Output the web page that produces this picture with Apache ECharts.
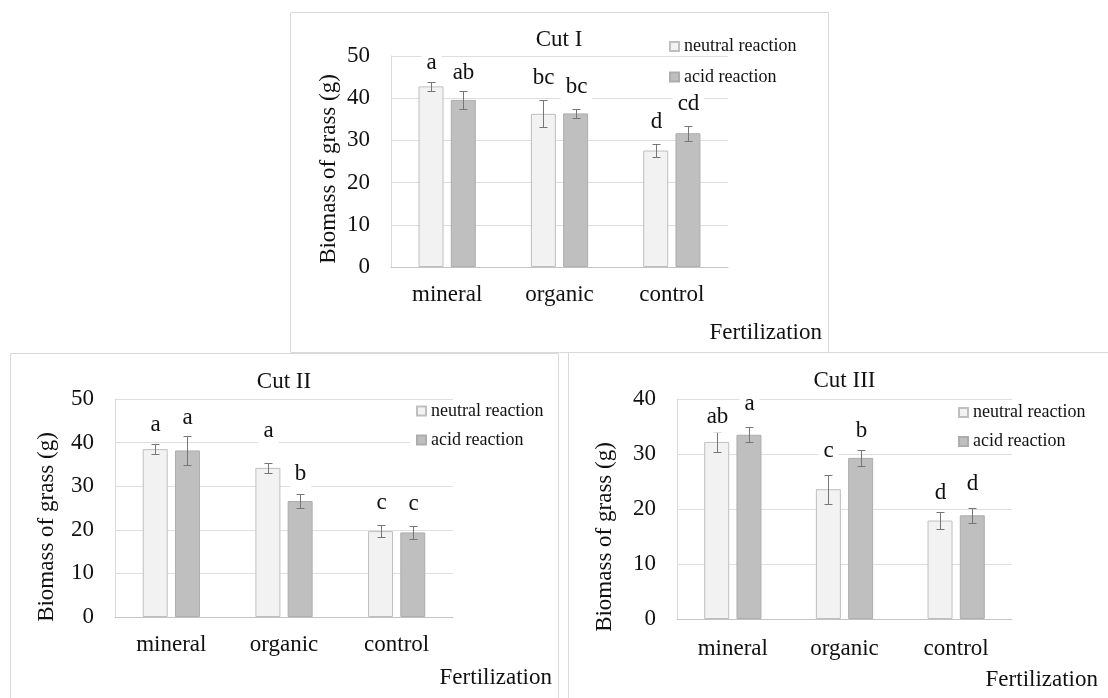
<!DOCTYPE html>
<html><head><meta charset="utf-8">
<script src="https://cdn.jsdelivr.net/npm/echarts@6/dist/echarts.min.js"></script>
<style>html,body{margin:0;padding:0;background:#fff;}#c{width:1108px;height:698px;}</style>
</head><body><div id="c"></div>
<script>
// ---------------- DATA ----------------
const categories = ['mineral', 'organic', 'control'];
const seriesNames = ['neutral reaction', 'acid reaction'];
const panelTitles = ['Cut I', 'Cut II', 'Cut III'];
const yAxisTitle = 'Biomass of grass (g)';
const xAxisTitle = 'Fertilization';
const yMaxes = [50, 50, 40];
const yStep = 10;

const cut1Neutral = [42.8, 36.3, 27.6];
const cut1NeutralErr = [1.0, 3.2, 1.5];
const cut1Acid = [39.6, 36.4, 31.7];
const cut1AcidErr = [2.1, 1.05, 1.8];
const cut1NeutralLetters = ['a', 'bc', 'd'];
const cut1AcidLetters = ['ab', 'bc', 'cd'];

const cut2Neutral = [38.5, 34.2, 19.7];
const cut2NeutralErr = [1.2, 1.15, 1.45];
const cut2Acid = [38.2, 26.6, 19.4];
const cut2AcidErr = [3.3, 1.7, 1.5];
const cut2NeutralLetters = ['a', 'a', 'c'];
const cut2AcidLetters = ['a', 'b', 'c'];

const cut3Neutral = [32.2, 23.6, 17.9];
const cut3NeutralErr = [1.75, 2.6, 1.6];
const cut3Acid = [33.5, 29.3, 18.85];
const cut3AcidErr = [1.35, 1.5, 1.35];
const cut3NeutralLetters = ['ab', 'c', 'd'];
const cut3AcidLetters = ['a', 'b', 'd'];

// ---------------- STYLE / LAYOUT ----------------
const FONT = '"Liberation Serif", "Times New Roman", serif';
const TXT = '#111';
const NEUTRAL = { color: '#f2f2f2', borderColor: '#bfbfbf', borderWidth: 1 };
const ACID = { color: '#bfbfbf', borderColor: '#adadad', borderWidth: 1 };
const BAR_W = 25, BAR_GAP = 0.29;
const OFF = (BAR_W * (1 + BAR_GAP)) / 2;
// letter baseline lift above error-bar top (px), per panel [neutral[], acid[]]
const letterLift = [
  [[12, 15, 15], [11, 15, 15]],
  [[12, 25, 15], [11, 13, 15]],
  [[8, 17, 12], [16, 12, 17]]
];

const panels = [
  { n: cut1Neutral, ne: cut1NeutralErr, nl: cut1NeutralLetters, a: cut1Acid, ae: cut1AcidErr, al: cut1AcidLetters,
    grid: { left: 391, top: 56, width: 337, height: 211 }, frame: [290.5, 12.5, 538, 340],
    title: [559, 40], legend: { left: 669, top: 37.5, itemGap: 12.5, bg: 'transparent', padding: 0 },
    yName: [329, 169], xName: [822, 333], labelMargin: 16 },
  { n: cut2Neutral, ne: cut2NeutralErr, nl: cut2NeutralLetters, a: cut2Acid, ae: cut2AcidErr, al: cut2AcidLetters,
    grid: { left: 115, top: 399, width: 338, height: 218 }, frame: [10.5, 353.5, 548, 400],
    title: [284, 381.5], legend: { left: 410, top: 402, itemGap: 11, bg: '#fff', padding: [0, 4, 2, 6] },
    yName: [47, 527], xName: [552, 678], labelMargin: 16 },
  { n: cut3Neutral, ne: cut3NeutralErr, nl: cut3NeutralLetters, a: cut3Acid, ae: cut3AcidErr, al: cut3AcidLetters,
    grid: { left: 677, top: 399, width: 335, height: 220 }, frame: [568.5, 352.5, 600, 400],
    title: [844.5, 380.5], legend: { left: 958, top: 403.5, itemGap: 11, bg: 'transparent', padding: 0 },
    yName: [605, 537], xName: [1098, 680], labelMargin: 18 }
];

function errRender(errs, letters, lifts, side) {
  return function (params, api) {
    const i = api.value(0), v = api.value(1), e = errs[params.dataIndex];
    const c = api.coord([i, v]);
    const t = api.coord([i, v + e]);
    const b = api.coord([i, v - e]);
    const x = Math.round(c[0] + side * OFF) + 0.5;
    const yt = Math.round(t[1]) + 0.5, yb = Math.round(b[1]) + 0.5;
    const ls = { stroke: '#767676', lineWidth: 1 };
    const baseline = t[1] - lifts[params.dataIndex];
    return {
      type: 'group',
      children: [
        { type: 'line', shape: { x1: x, y1: yt, x2: x, y2: yb }, style: ls },
        { type: 'line', shape: { x1: x - 4, y1: yt, x2: x + 4, y2: yt }, style: ls },
        { type: 'line', shape: { x1: x - 4, y1: yb, x2: x + 4, y2: yb }, style: ls },
        { type: 'text', x: x, y: baseline - 7, z2: 10,
          style: { text: letters[params.dataIndex], font: '23px ' + FONT, fill: TXT,
                   align: 'center', verticalAlign: 'middle',
                   backgroundColor: '#fff', padding: [6, 5, 2, 5] } }
      ]
    };
  };
}

const grids = [], xAxes = [], yAxes = [], series = [], legends = [], graphics = [];
panels.forEach((p, k) => {
  grids.push(Object.assign({ containLabel: false }, p.grid));
  xAxes.push({ type: 'category', gridIndex: k, data: categories,
    axisLine: { lineStyle: { color: '#c4c4c4', width: 1 } }, axisTick: { show: false },
    axisLabel: { fontFamily: FONT, fontSize: 23, color: TXT, margin: p.labelMargin } });
  yAxes.push({ type: 'value', gridIndex: k, min: 0, max: yMaxes[k], interval: yStep,
    axisLine: { show: true, lineStyle: { color: '#d9d9d9' } }, axisTick: { show: false },
    splitLine: { lineStyle: { color: '#dedede', width: 1 } },
    axisLabel: { fontFamily: FONT, fontSize: 23, color: TXT, margin: 21 } });
  series.push({ name: seriesNames[0], type: 'bar', xAxisIndex: k, yAxisIndex: k, data: p.n,
    barWidth: BAR_W, barGap: (BAR_GAP * 100) + '%', itemStyle: NEUTRAL, z: 2 });
  series.push({ name: seriesNames[1], type: 'bar', xAxisIndex: k, yAxisIndex: k, data: p.a,
    barWidth: BAR_W, barGap: (BAR_GAP * 100) + '%', itemStyle: ACID, z: 2 });
  series.push({ type: 'custom', xAxisIndex: k, yAxisIndex: k, z: 3, clip: false,
    data: p.n.map((v, i) => [i, v]), renderItem: errRender(p.ne, p.nl, letterLift[k][0], -1) });
  series.push({ type: 'custom', xAxisIndex: k, yAxisIndex: k, z: 3, clip: false,
    data: p.a.map((v, i) => [i, v]), renderItem: errRender(p.ae, p.al, letterLift[k][1], 1) });
  legends.push({ data: seriesNames, orient: 'vertical', left: p.legend.left, top: p.legend.top,
    itemWidth: 9, itemHeight: 9, itemGap: p.legend.itemGap, icon: 'rect',
    backgroundColor: p.legend.bg, padding: p.legend.padding, selectedMode: false, z: 4,
    textStyle: { fontFamily: FONT, fontSize: 18, color: TXT, lineHeight: 18 } });
  graphics.push({ type: 'rect', z: -1, shape: { x: p.frame[0], y: p.frame[1], width: p.frame[2], height: p.frame[3] },
    style: { fill: 'none', stroke: '#d9d9d9', lineWidth: 1 } });
  graphics.push({ type: 'text', x: p.title[0], y: p.title[1],
    style: { text: panelTitles[k], font: '23px ' + FONT, fill: TXT, align: 'center', verticalAlign: 'middle' } });
  graphics.push({ type: 'text', x: p.yName[0], y: p.yName[1], rotation: Math.PI / 2,
    style: { text: yAxisTitle, font: '23px ' + FONT, fill: TXT, align: 'center', verticalAlign: 'middle' } });
  graphics.push({ type: 'text', x: p.xName[0], y: p.xName[1],
    style: { text: xAxisTitle, font: '23px ' + FONT, fill: TXT, align: 'right', verticalAlign: 'middle' } });
});

const chart = echarts.init(document.getElementById('c'), null, { renderer: 'canvas' });
chart.setOption({
  animation: false,
  backgroundColor: '#fff',
  grid: grids, xAxis: xAxes, yAxis: yAxes, legend: legends, series: series, graphic: graphics
});
</script></body></html>
